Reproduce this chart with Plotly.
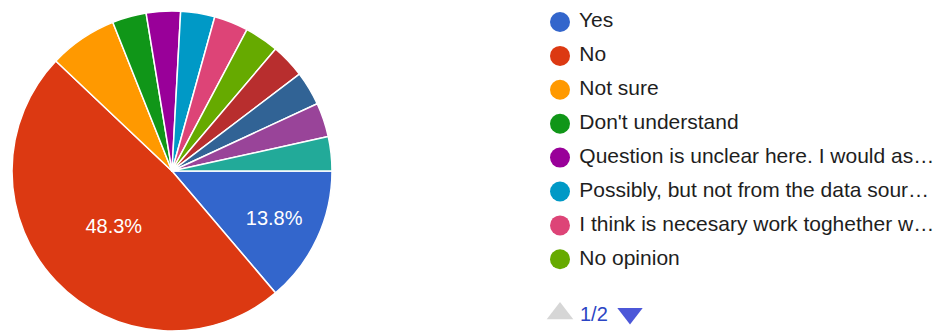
import plotly.graph_objects as go

# Survey answers (29 responses in total)
labels = [
    "Yes",
    "No",
    "Not sure",
    "Don't understand",
    "Question is unclear here. I would as…",
    "Possibly, but not from the data sour…",
    "I think is necesary work toghether w…",
    "No opinion",
    "Other answer A",
    "Other answer B",
    "Other answer C",
    "Other answer D",
]
counts = [4, 14, 2, 1, 1, 1, 1, 1, 1, 1, 1, 1]
colors = [
    "#3366cc", "#dc3912", "#ff9900", "#109618", "#990099", "#0099c6",
    "#dd4477", "#66aa00", "#b82e2e", "#316395", "#994499", "#22aa99",
]
# Only the two largest slices carry a percentage label
show_pct = [True, True] + [False] * 10

# Legend shows the first page of answers
legend_page_size = 8
page_text = "1/2"

FONT = "Liberation Sans, Arial, sans-serif"

fig = go.Figure()

fig.add_trace(go.Pie(
    labels=labels,
    values=counts,
    sort=False,
    direction="clockwise",
    rotation=90,
    marker=dict(colors=colors, line=dict(color="white", width=1.5)),
    texttemplate=["%{percent:.1%}" if s else "" for s in show_pct],
    textposition="inside",
    insidetextorientation="horizontal",
    textfont=dict(family=FONT, size=20, color="white"),
    domain=dict(x=[12 / 946, 332 / 946], y=[0, 0.967]),
    showlegend=False,
    hoverinfo="label+percent",
))

# Legend drawn as a marker column on a hidden axis (one row per answer)
rows = list(range(legend_page_size))
fig.add_trace(go.Scatter(
    x=[0] * legend_page_size,
    y=rows,
    mode="markers+text",
    marker=dict(size=20, color=colors[:legend_page_size], line=dict(width=0)),
    text=[" " + l for l in labels[:legend_page_size]],
    textposition="middle right",
    textfont=dict(family=FONT, size=21, color="#1e1e1e"),
    cliponaxis=False,
    showlegend=False,
    hoverinfo="skip",
))

# Page navigation: up arrow (inactive), page counter, down arrow
nav_row = 8.6
fig.add_trace(go.Scatter(
    x=[0, 70],
    y=[nav_row, nav_row],
    mode="markers",
    marker=dict(symbol=["triangle-up", "triangle-down"], size=[23, 22],
                color=["#c4c4c4", "#0010c8"], line=dict(width=0)),
    cliponaxis=False,
    showlegend=False,
    hoverinfo="skip",
))
fig.add_annotation(
    x=18, y=nav_row, xref="x", yref="y", text=page_text, showarrow=False,
    xanchor="left", yanchor="middle",
    font=dict(family=FONT, size=20, color="#2b45c4"),
)

fig.update_layout(
    width=946,
    height=331,
    margin=dict(l=0, r=0, t=0, b=0),
    paper_bgcolor="white",
    plot_bgcolor="white",
    xaxis=dict(visible=False, range=[-560, 386], domain=[0, 1], fixedrange=True),
    yaxis=dict(visible=False, range=[9.115, -0.649], domain=[0, 1], fixedrange=True),
)

fig.write_html("out.html")
